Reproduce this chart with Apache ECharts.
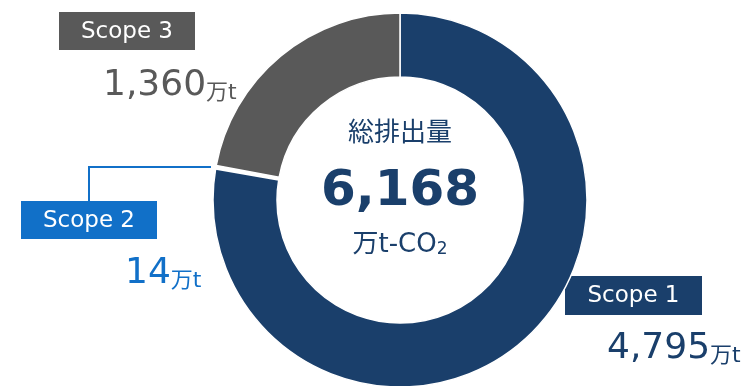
<!DOCTYPE html>
<html><head><meta charset="utf-8">
<script src="https://cdn.jsdelivr.net/npm/echarts@6/dist/echarts.min.js"></script>
<style>html,body{margin:0;padding:0;background:#fff}#c{width:750px;height:386px}</style>
</head><body><div id="c"></div>
<script>
// ---- data ----
const categories = ['Scope 1', 'Scope 2', 'Scope 3'];
const values = [4795, 14, 1360];
const totalTitle = '総排出量';
const totalValue = 6168;
const unitText = '万t';
const totalUnit = '万t-CO';
const totalUnitSub = '2';

// ---- styles ----
const FONT = "'DejaVu Sans', 'Noto Sans CJK JP', sans-serif";
const colors = ['#1a3f6b', '#1170c8', '#595959'];
const fmt = v => v.toLocaleString('en-US');

const chart = echarts.init(document.getElementById('c'), null, {renderer: 'canvas'});

// label layout (box + value) per category index
const labelPos = [
  {box: [565, 276, 137, 39], val: [607, 367]},
  {box: [21, 201, 136, 38], val: [125, 292]},
  {box: [59, 12, 136, 38], val: [103, 104]}
];

const graphics = [];
categories.forEach((name, i) => {
  const p = labelPos[i];
  graphics.push({
    type: 'rect', silent: true,
    shape: {x: p.box[0], y: p.box[1], width: p.box[2], height: p.box[3]},
    style: {fill: colors[i]}
  });
  graphics.push({
    type: 'text', silent: true,
    style: {
      x: p.box[0] + p.box[2] / 2, y: p.box[1] + p.box[3] / 2 + 1,
      text: name, fill: '#fff', font: '23px ' + FONT,
      align: 'center', verticalAlign: 'middle'
    }
  });
  graphics.push({
    type: 'text', silent: true,
    style: {
      x: p.val[0], y: p.val[1],
      text: '{n|' + fmt(values[i]) + '}{u|' + unitText + '}',
      align: 'left', verticalAlign: 'bottom',
      rich: {
        n: {fontSize: 36, fontFamily: FONT, fill: colors[i], lineHeight: 36},
        u: {fontSize: 22, fontFamily: FONT, fill: colors[i], lineHeight: 27, verticalAlign: 'bottom'}
      }
    }
  });
});
// leader line for Scope 2
graphics.push({
  type: 'polyline', silent: true,
  shape: {points: [[89, 201], [89, 167], [211, 167]]},
  style: {stroke: colors[1], lineWidth: 2, fill: null}
});
// centre text
graphics.push({
  type: 'text', silent: true,
  style: {x: 400, y: 134, text: totalTitle, fill: colors[0], font: '26px ' + FONT, align: 'center', verticalAlign: 'middle'}
});
graphics.push({
  type: 'text', silent: true,
  style: {x: 400, y: 192, text: fmt(totalValue), fill: colors[0], font: 'bold 50px ' + FONT, align: 'center', verticalAlign: 'middle'}
});
graphics.push({
  type: 'text', silent: true,
  style: {
    x: 400, y: 245, align: 'center', verticalAlign: 'middle',
    text: '{a|' + totalUnit + '}{s|' + totalUnitSub + '}',
    rich: {
      a: {fontSize: 26, fontFamily: FONT, fill: colors[0], lineHeight: 26},
      s: {fontSize: 17, fontFamily: FONT, fill: colors[0], lineHeight: 6, verticalAlign: 'bottom'}
    }
  }
});

chart.setOption({
  animation: false,
  series: [{
    type: 'pie',
    center: [400, 200],
    radius: [123, 187],
    startAngle: 90,
    clockwise: true,
    silent: true,
    label: {show: false},
    labelLine: {show: false},
    itemStyle: {borderColor: '#fff', borderWidth: 1.5},
    data: categories.map((name, i) => ({
      name, value: values[i],
      itemStyle: {color: colors[i], borderWidth: i === 1 ? 3.5 : 1.5}
    }))
  }],
  graphic: graphics
});
</script>
</body></html>
